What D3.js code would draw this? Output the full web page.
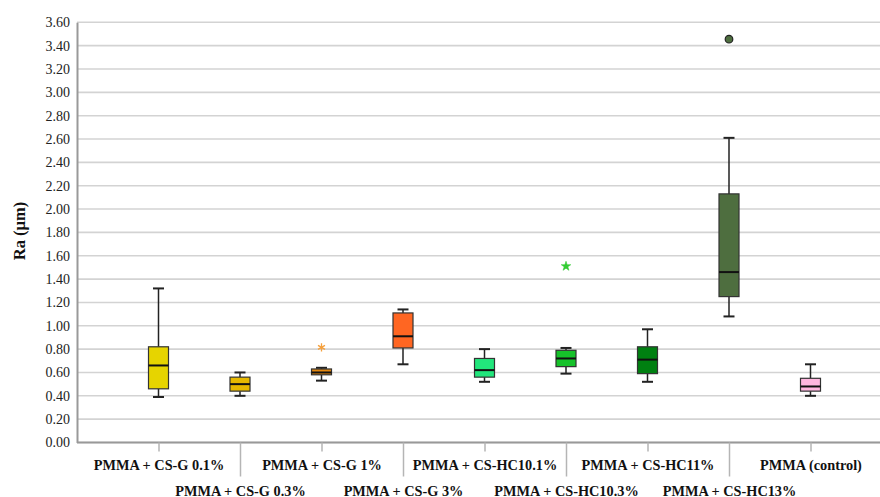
<!DOCTYPE html>
<html>
<head>
<meta charset="utf-8">
<script src="https://cdn.jsdelivr.net/npm/d3@7"></script>
<style>
  html, body { margin: 0; padding: 0; background: #fff; }
  svg { display: block; }
</style>
</head>
<body>
<svg id="chart" width="880" height="497"></svg>
<script>
// ---- data ----
const categories = [
  "PMMA + CS-G 0.1%", "PMMA + CS-G 0.3%", "PMMA + CS-G 1%", "PMMA + CS-G 3%",
  "PMMA + CS-HC10.1%", "PMMA + CS-HC10.3%", "PMMA + CS-HC11%", "PMMA + CS-HC13%",
  "PMMA (control)"
];
const whiskerLow  = [0.39, 0.40, 0.53, 0.67, 0.52, 0.59, 0.52, 1.08, 0.40];
const q1          = [0.46, 0.44, 0.58, 0.81, 0.56, 0.65, 0.59, 1.25, 0.44];
const median      = [0.66, 0.50, 0.60, 0.91, 0.62, 0.72, 0.71, 1.46, 0.48];
const q3          = [0.82, 0.56, 0.63, 1.11, 0.72, 0.79, 0.82, 2.13, 0.55];
const whiskerHigh = [1.32, 0.60, 0.64, 1.14, 0.80, 0.81, 0.97, 2.61, 0.67];
const boxColors   = ["#e6d400", "#e6b800", "#e3870f", "#ff6622", "#22e67c", "#16c22a", "#008011", "#4e6e3f", "#ffb6df"];
// outliers: [category index, value, type]
const outlierCat  = [2, 5, 7];
const outlierVal  = [0.815, 1.51, 3.455];
const outlierType = ["asterisk", "star", "circle"];
const outlierCol  = ["#f5a03c", "#33cc33", "#4e6e3f"];
const yTicks = d3.range(0, 3.601, 0.2);

// ---- layout ----
const svg = d3.select("#chart");
const mLeft = 77, mTop = 22.3, mBottom = 442.5;
const x = d3.scalePoint().domain(categories).range([mLeft, mLeft + 81.5 * 10]).padding(1);
const y = d3.scaleLinear().domain([0, 3.6]).range([mBottom, mTop]);

// gridlines
svg.append("g").selectAll("line").data(yTicks).join("line")
  .attr("x1", mLeft).attr("x2", 900)
  .attr("y1", d => y(d)).attr("y2", d => y(d))
  .attr("stroke", "#d3d3d3").attr("stroke-width", 1.6);

// y axis
const yAxis = d3.axisLeft(y).tickValues(yTicks).tickFormat(d3.format(".2f")).tickSize(0).tickPadding(7);
const gy = svg.append("g").attr("transform", `translate(${mLeft},0)`).call(yAxis);
gy.select(".domain").attr("stroke", "#999").attr("stroke-width", 2);
gy.selectAll("text").attr("font-family", "Liberation Serif, serif").attr("font-size", 14).attr("fill", "#222");

// x axis
const xAxis = d3.axisBottom(x).tickSizeOuter(0).tickSizeInner(0).tickFormat("");
const gx = svg.append("g").attr("transform", `translate(0,${mBottom})`).call(xAxis);
gx.select(".domain").attr("stroke", "#999").attr("stroke-width", 2).attr("d", `M${mLeft},0H900`);
gx.selectAll(".tick line").attr("stroke", "#b5b5b5").attr("stroke-width", 1.5)
  .attr("y2", (d, i) => i % 2 === 0 ? 9 : 34);
gx.selectAll(".tick").append("text")
  .attr("y", (d, i) => i % 2 === 0 ? 27 : 53)
  .attr("text-anchor", "middle")
  .attr("font-family", "Liberation Serif, serif").attr("font-weight", "bold")
  .attr("font-size", 14.3).attr("fill", "#111")
  .text(d => d);

// y label
svg.append("text")
  .attr("transform", `translate(25,231) rotate(-90)`)
  .attr("text-anchor", "middle")
  .attr("font-family", "Liberation Serif, serif").attr("font-weight", "bold")
  .attr("font-size", 16.5).attr("fill", "#111")
  .text("Ra (µm)");

// boxes
const bw = 20, cw = 11;
const g = svg.append("g");
categories.forEach((c, i) => {
  const cx = x(c);
  const gg = g.append("g");
  gg.append("line").attr("x1", cx).attr("x2", cx).attr("y1", y(whiskerHigh[i])).attr("y2", y(q3[i]))
    .attr("stroke", "#222").attr("stroke-width", 1.5);
  gg.append("line").attr("x1", cx).attr("x2", cx).attr("y1", y(q1[i])).attr("y2", y(whiskerLow[i]))
    .attr("stroke", "#222").attr("stroke-width", 1.5);
  gg.append("line").attr("x1", cx - cw / 2).attr("x2", cx + cw / 2).attr("y1", y(whiskerHigh[i])).attr("y2", y(whiskerHigh[i]))
    .attr("stroke", "#222").attr("stroke-width", 2);
  gg.append("line").attr("x1", cx - cw / 2).attr("x2", cx + cw / 2).attr("y1", y(whiskerLow[i])).attr("y2", y(whiskerLow[i]))
    .attr("stroke", "#222").attr("stroke-width", 2);
  gg.append("rect").attr("x", cx - bw / 2).attr("width", bw)
    .attr("y", y(q3[i])).attr("height", y(q1[i]) - y(q3[i]))
    .attr("fill", boxColors[i]).attr("stroke", "#333").attr("stroke-width", 1.2);
  gg.append("line").attr("x1", cx - bw / 2).attr("x2", cx + bw / 2).attr("y1", y(median[i])).attr("y2", y(median[i]))
    .attr("stroke", "#111").attr("stroke-width", 2);
});

// outliers
outlierCat.forEach((ci, k) => {
  const cx = x(categories[ci]), cy = y(outlierVal[k]);
  if (outlierType[k] === "circle") {
    svg.append("circle").attr("cx", cx).attr("cy", cy).attr("r", 3.8)
      .attr("fill", outlierCol[k]).attr("stroke", "#222").attr("stroke-width", 1.2);
  } else if (outlierType[k] === "star") {
    svg.append("path")
      .attr("transform", `translate(${cx},${cy})`)
      .attr("d", d3.symbol(d3.symbolStar, 28)())
      .attr("fill", outlierCol[k]).attr("stroke", outlierCol[k]).attr("stroke-width", 0.6);
  } else {
    svg.append("path")
      .attr("transform", `translate(${cx},${cy})`)
      .attr("d", d3.symbol(d3.symbolAsterisk, 45)())
      .attr("fill", "none").attr("stroke", outlierCol[k]).attr("stroke-width", 1.3);
  }
});
</script>
</body>
</html>
